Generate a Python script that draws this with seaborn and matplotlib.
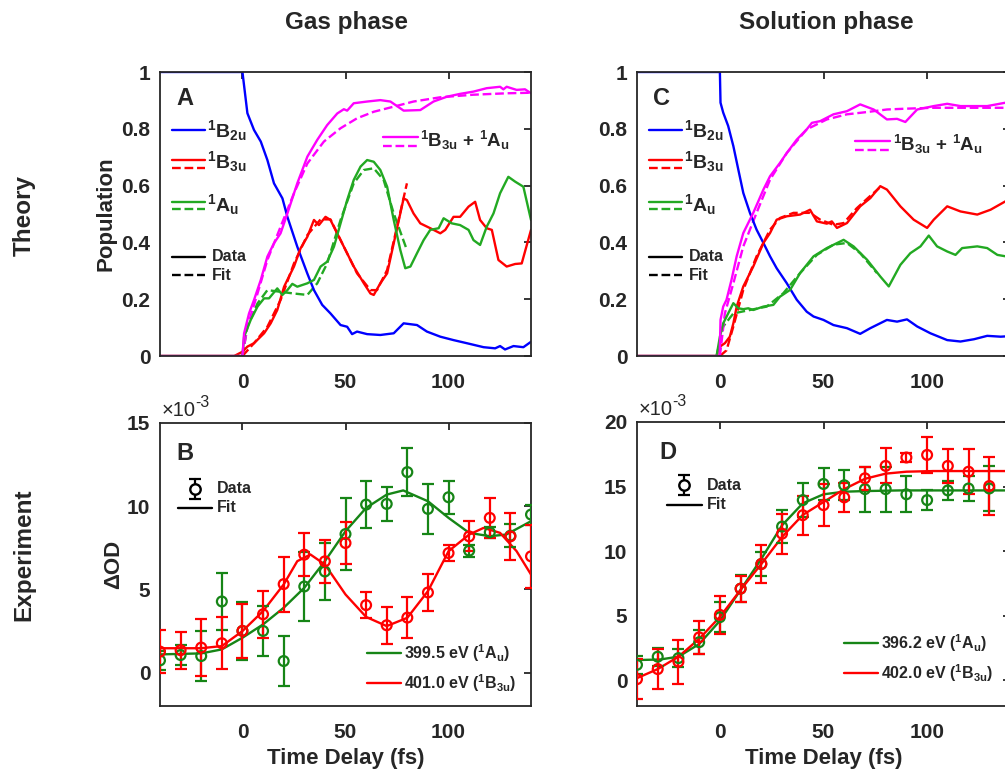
import matplotlib
matplotlib.use("Agg")
import matplotlib.pyplot as plt
import seaborn as sns

sns.set_theme(style="white")
plt.rcParams['font.family'] = ['Liberation Sans', 'DejaVu Sans']
plt.rcParams['font.weight'] = 'bold'
plt.rcParams['axes.labelweight'] = 'bold'
plt.rcParams['mathtext.fontset'] = 'custom'
plt.rcParams['mathtext.rm'] = 'Liberation Sans:bold'
plt.rcParams['mathtext.it'] = 'Liberation Sans:bold'
plt.rcParams['mathtext.bf'] = 'Liberation Sans:bold'
plt.rcParams['mathtext.default'] = 'rm'

# ---------------- theory: state populations (time in fs, population) ----------------
gas_b2u = [(-40, 1.0), (0, 1.0), (2.4, 0.855), (5.6, 0.796), (8.9, 0.755), (12.1, 0.69),
           (15.3, 0.608), (19.4, 0.555), (21.8, 0.49), (26.6, 0.385), (31.5, 0.29),
           (34.7, 0.232), (38.7, 0.18), (42.7, 0.15), (47.6, 0.109), (50.8, 0.103),
           (53.2, 0.077), (55.6, 0.086), (60.5, 0.077), (66.9, 0.074), (73.4, 0.08),
           (78.2, 0.115), (84.7, 0.109), (89.5, 0.086), (96, 0.068), (102.4, 0.056),
           (108.9, 0.045), (117, 0.031), (122.6, 0.027), (125, 0.035), (127.4, 0.023),
           (131.5, 0.035), (136.3, 0.031), (140, 0.05)]
gas_sum = [(-40, 0), (0, 0), (0.8, 0.08), (3.2, 0.15), (5.6, 0.197), (8.9, 0.268),
           (12.1, 0.35), (15.3, 0.397), (18.5, 0.432), (21.8, 0.502), (26.6, 0.608),
           (31.5, 0.702), (36.3, 0.761), (41.1, 0.813), (46, 0.854), (49.2, 0.869),
           (50.8, 0.864), (54, 0.89), (60.5, 0.896), (66.9, 0.901), (71.8, 0.896),
           (78.2, 0.864), (86.3, 0.866), (92.7, 0.896), (99.2, 0.913), (105.6, 0.923),
           (112.1, 0.931), (118.5, 0.943), (125, 0.948), (126.6, 0.939), (128.2, 0.948),
           (133, 0.937), (137.1, 0.939), (140, 0.925)]
gas_sum_fit = [(0, 0), (2.4, 0.103), (7.3, 0.22), (12.1, 0.338), (18.5, 0.455), (25, 0.573),
               (31.5, 0.678), (39.5, 0.755), (47.6, 0.802), (55.6, 0.837), (63.7, 0.86),
               (73.4, 0.878), (83, 0.896), (96, 0.911), (112, 0.92), (128, 0.925), (140, 0.927)]
gas_b3u = [(-40, 0), (-4, 0), (0, 0.015), (2.4, 0.033), (5.6, 0.045), (10.5, 0.08),
           (13.7, 0.115), (16.9, 0.162), (20.2, 0.244), (21.8, 0.268), (25, 0.315),
           (28.2, 0.379), (31.5, 0.42), (34.7, 0.479), (37.1, 0.461), (40.3, 0.49),
           (42.7, 0.479), (47.6, 0.408), (54, 0.315), (58.9, 0.256), (62.1, 0.22),
           (63.7, 0.215), (66.9, 0.256), (70.2, 0.291), (73.4, 0.397), (78.2, 0.555),
           (79.8, 0.549), (83, 0.502), (86.3, 0.467), (91.1, 0.45), (96, 0.432),
           (98.4, 0.444), (102.4, 0.49), (105.6, 0.49), (109.7, 0.526), (112.9, 0.543),
           (115.3, 0.479), (118.5, 0.45), (121, 0.444), (124.2, 0.338), (128.2, 0.315),
           (132.3, 0.324), (135.5, 0.326), (140, 0.444)]
gas_b3u_fit = [(0, 0), (5.6, 0.045), (12.1, 0.103), (18.5, 0.197), (25, 0.326), (31.5, 0.426),
               (37.9, 0.481), (42.7, 0.481), (49.2, 0.385), (55.6, 0.291), (62.1, 0.232),
               (65.3, 0.232), (70.2, 0.303), (75, 0.455), (79.8, 0.608)]
gas_au = [(-40, 0), (0, 0), (0.8, 0.068), (4, 0.127), (7.3, 0.174), (10.5, 0.203),
          (12.9, 0.203), (16.9, 0.238), (19.4, 0.215), (21.8, 0.232), (24.2, 0.254),
          (26.6, 0.244), (31.5, 0.256), (34.7, 0.268), (37.9, 0.315), (41.1, 0.332),
          (44.4, 0.385), (47.6, 0.467), (50.8, 0.549), (54, 0.62), (57.3, 0.667),
          (60.5, 0.69), (63.7, 0.684), (66.9, 0.655), (70.2, 0.596), (73.4, 0.479),
          (76.6, 0.373), (79, 0.309), (81.5, 0.315), (84.7, 0.362), (87.9, 0.408),
          (91.1, 0.444), (95.2, 0.45), (97.6, 0.485), (101.6, 0.467), (105.6, 0.461),
          (109.7, 0.444), (112.1, 0.408), (115.3, 0.391), (118.5, 0.455), (121.8, 0.502),
          (125, 0.573), (129, 0.631), (132.3, 0.614), (136.3, 0.596), (140, 0.479)]
gas_au_fit = [(0, 0), (2.4, 0.103), (7.3, 0.185), (12.1, 0.232), (18.5, 0.226), (25, 0.22),
              (31.5, 0.215), (36.3, 0.256), (41.1, 0.326), (47.6, 0.479), (54, 0.608),
              (58.9, 0.655), (63.7, 0.661), (68.5, 0.62), (73.4, 0.502), (79.8, 0.373)]

sol_b2u = [(-40, 1.0), (0, 1.0), (0.3, 0.892), (1.6, 0.857), (4, 0.81), (6.5, 0.739),
           (8.9, 0.656), (11.3, 0.574), (14.5, 0.504), (17.7, 0.445), (21, 0.398),
           (24.2, 0.351), (27.4, 0.309), (32.3, 0.256), (37.1, 0.198), (41.9, 0.156),
           (45.2, 0.139), (50, 0.127), (54.8, 0.109), (61.3, 0.098), (67.7, 0.078),
           (72.6, 0.098), (80.6, 0.127), (85.5, 0.121), (90.3, 0.129), (95.2, 0.104),
           (101.6, 0.08), (109.7, 0.056), (116.1, 0.051), (122.6, 0.059), (129, 0.071),
           (135.5, 0.068), (140, 0.07)]
sol_sum = [(-40, 0), (-0.1, 0), (0, 0.033), (0.3, 0.127), (1.6, 0.174), (3.2, 0.198),
           (5.6, 0.268), (8.1, 0.351), (11.3, 0.433), (16.1, 0.504), (21, 0.586),
           (24.2, 0.633), (29, 0.68), (32.3, 0.715), (37.1, 0.762), (41.9, 0.798),
           (44.4, 0.821), (48.4, 0.827), (54.8, 0.851), (61.3, 0.862), (67.7, 0.886),
           (74.2, 0.868), (80.6, 0.833), (85.5, 0.835), (89.5, 0.824), (95.2, 0.868),
           (103.2, 0.88), (109.7, 0.888), (116.1, 0.88), (122.6, 0.88), (129, 0.88),
           (137.9, 0.892), (140, 0.89)]
sol_sum_fit = [(0, 0), (2.4, 0.15), (6.5, 0.256), (11.3, 0.386), (17.7, 0.504), (24.2, 0.621),
               (32.3, 0.715), (41.9, 0.798), (51.6, 0.833), (61.3, 0.851), (71, 0.859),
               (80.6, 0.868), (90.3, 0.871), (103.2, 0.874), (119.4, 0.874), (140, 0.874)]
sol_b3u = [(-40, 0), (-0.1, 0), (0, 0.033), (2.4, 0.045), (4.8, 0.068), (6.5, 0.115),
           (8.1, 0.174), (11.3, 0.245), (16.1, 0.315), (21, 0.398), (24.2, 0.433),
           (27.4, 0.48), (32.3, 0.492), (38.7, 0.498), (43.5, 0.515), (46.8, 0.474),
           (51.6, 0.466), (54, 0.474), (56.5, 0.451), (61.3, 0.468), (67.7, 0.527),
           (72.6, 0.556), (77.4, 0.598), (80.6, 0.586), (87.1, 0.527), (93.5, 0.48),
           (100, 0.451), (103.2, 0.48), (109.7, 0.527), (116.1, 0.509), (124.2, 0.498),
           (130.6, 0.515), (137.9, 0.545), (140, 0.55)]
sol_b3u_fit = [(0, 0), (3.2, 0.02), (6.5, 0.104), (11.3, 0.233), (17.7, 0.351), (24.2, 0.445),
               (29, 0.486), (35.5, 0.504), (43.5, 0.504), (48.4, 0.48), (54.8, 0.462),
               (59.7, 0.468), (66, 0.52), (72, 0.56), (77, 0.592)]
sol_au = [(-40, 0), (-1.6, 0), (0, 0.068), (1.6, 0.115), (4, 0.15), (6.5, 0.186),
          (8.9, 0.168), (11.3, 0.165), (13.7, 0.168), (16.1, 0.162), (21, 0.174),
          (25.8, 0.18), (29, 0.209), (33.9, 0.233), (38.7, 0.292), (45.2, 0.351),
          (51.6, 0.38), (59.7, 0.409), (64.5, 0.386), (71, 0.339), (77.4, 0.28),
          (81.5, 0.245), (87.1, 0.321), (91.9, 0.362), (96.8, 0.386), (100.8, 0.424),
          (104.8, 0.386), (109.7, 0.368), (113.7, 0.356), (116.9, 0.38), (124.2, 0.386),
          (129, 0.38), (133.9, 0.356), (137.9, 0.351), (140, 0.35)]
sol_au_fit = [(-1.6, 0), (1.6, 0.104), (6.5, 0.15), (14.5, 0.162), (22.6, 0.174),
              (30.6, 0.221), (38.7, 0.292), (46.8, 0.356), (54.8, 0.392), (61.3, 0.398),
              (67.7, 0.362), (75.8, 0.292)]

# ---------------- experiment: transient absorption (x1e-3) ----------------
delays = [-40, -30, -20, -10, 0, 10, 20, 30, 40, 50, 60, 70, 80, 90, 100, 110, 120, 130, 140]

gas_au_od = [0.74, 1.06, 1.0, 4.28, 2.51, 2.51, 0.7, 5.18, 6.08, 8.33, 10.1, 10.14, 12.05,
             9.84, 10.54, 7.33, 8.43, 8.23, 9.5]
gas_au_err = [0.55, 0.6, 1.5, 1.7, 1.75, 1.5, 1.5, 2.1, 1.7, 2.15, 1.4, 1.0, 1.45, 1.5, 1.0,
              0.35, 0.35, 0.7, 0.6]
gas_b3u_od = [1.27, 1.35, 1.51, 1.77, 2.51, 3.51, 5.32, 7.09, 6.69, 7.79, 4.06, 2.85, 3.31,
              4.82, 7.19, 8.19, 9.3, 8.19, 6.99]
gas_b3u_err = [1.3, 1.1, 1.7, 1.55, 1.6, 1.4, 1.65, 1.3, 1.3, 1.25, 0.8, 1.1, 1.25, 1.1, 0.5,
               0.9, 1.2, 1.4, 1.9]
gas_au_fit_od = [(-40, 1.1), (-20, 1.16), (-10, 1.4), (0, 2.1), (10, 2.9), (20, 3.9),
                 (30, 5.1), (40, 6.7), (50, 8.5), (60, 9.9), (70, 10.7), (78, 10.95),
                 (90, 10.3), (100, 9.3), (110, 8.4), (120, 8.2), (128, 8.3), (140, 9.1)]
gas_b3u_fit_od = [(-40, 1.47), (-20, 1.47), (-10, 1.6), (0, 2.5), (10, 3.7), (20, 5.3),
                  (26.6, 6.7), (33, 7.1), (40, 6.5), (50, 4.7), (60, 3.35), (70, 2.8),
                  (80, 3.3), (90, 4.9), (100, 7.3), (110, 8.3), (117, 8.7), (125, 8.4),
                  (133, 7.3), (140, 5.9)]

sol_delays = [-40, -30, -20, -10, 0, 10, 20, 30, 40, 50, 60, 70, 80, 90, 100, 110, 120, 130]
sol_au_od = [1.19, 1.82, 1.71, 2.94, 4.88, 7.09, 9.0, 11.9, 13.95, 15.2, 15.1, 14.8, 14.8,
             14.4, 13.95, 14.7, 14.85, 14.85]
sol_au_err = [0.7, 0.7, 0.7, 0.95, 1.15, 1.05, 0.9, 1.3, 1.3, 1.25, 1.15, 1.75, 1.75, 1.4,
              0.8, 0.75, 1.0, 1.75]
sol_b3u_od = [0.08, 0.86, 1.43, 3.32, 5.06, 7.09, 9.0, 11.35, 12.78, 13.56, 14.16, 15.64,
              16.6, 17.25, 17.45, 16.6, 16.15, 15.04]
sol_b3u_err = [1.55, 1.55, 1.7, 1.3, 1.45, 1.0, 1.45, 1.55, 1.5, 1.6, 1.15, 0.9, 1.35, 0.35,
               1.4, 1.3, 1.75, 2.25]
sol_au_fit_od = [(-40, 1.56), (-29, 1.6), (-20, 1.82), (-10, 2.8), (0, 4.6), (10, 7.0),
                 (20, 9.4), (30, 12.0), (40, 13.7), (50, 14.4), (60, 14.6), (70, 14.65),
                 (87, 14.7), (140, 14.7)]
sol_b3u_fit_od = [(-40, 0.16), (-30, 0.86), (-20, 1.82), (-10, 3.2), (0, 4.9), (10, 7.0),
                  (20, 9.0), (30, 11.1), (40, 12.8), (50, 13.8), (60, 14.8), (70, 15.6),
                  (80, 16.0), (90, 16.15), (103, 16.2), (140, 16.2)]

BLUE, RED, MAG = '#0000FF', '#FF0000', '#FF00FF'
GREEN_TH, GREEN_EX = '#22A922', '#168516'
INK = '#262626'
LW = 1.7

W, H = 1005, 769
fig = plt.figure(figsize=(W / 100, H / 100), dpi=100)


def px_axes(left, top, width, height):
    return fig.add_axes([left / W, 1 - (top + height) / H, width / W, height / H])


axA = px_axes(160, 72, 371, 284)
axC = px_axes(637, 72, 373, 284)
axB = px_axes(160, 423, 371, 283)
axD = px_axes(637, 422, 373, 284)


def curve(ax, pts, color, dashed=False):
    t = [p[0] for p in pts]
    v = [p[1] for p in pts]
    sns.lineplot(x=t, y=v, ax=ax, color=color, lw=LW, estimator=None, sort=False,
                 linestyle='--' if dashed else '-', legend=False)


def style_axes(ax, ylim, yticks, ylabels):
    ax.set_xlim(-40, 140)
    ax.set_ylim(*ylim)
    ax.set_xticks([0, 50, 100])
    ax.set_yticks(yticks)
    ax.set_yticklabels(ylabels)
    ax.tick_params(direction='in', length=5, width=1.3, top=True, right=True,
                   labelsize=15, colors=INK)
    ax.tick_params(axis='x', pad=12)
    ax.tick_params(axis='y', pad=7)
    for lab in ax.get_xticklabels() + ax.get_yticklabels():
        lab.set_fontweight('bold')
    for s in ax.spines.values():
        s.set_color(INK)
        s.set_linewidth(1.3)
    ax.set_xlabel('')
    ax.set_ylabel('')


def key_line(ax, x0, x1, y, color, dashed=False):
    ax.plot([x0, x1], [y, y], transform=ax.transAxes, color=color, lw=LW,
            ls='--' if dashed else '-', clip_on=False)


def theory_keys(ax, letter, mag_x0, mag_y):
    ax.text(0.067, 0.905, letter, transform=ax.transAxes, fontsize=17, ha='center', va='center')
    key_line(ax, 0.032, 0.121, 0.796, BLUE)
    ax.text(0.127, 0.795, r'$^{1}$B$_{2u}$', transform=ax.transAxes, fontsize=14, va='center')
    key_line(ax, 0.032, 0.121, 0.690, RED)
    key_line(ax, 0.032, 0.121, 0.662, RED, True)
    ax.text(0.127, 0.683, r'$^{1}$B$_{3u}$', transform=ax.transAxes, fontsize=14, va='center')
    key_line(ax, 0.032, 0.121, 0.542, GREEN_TH)
    key_line(ax, 0.032, 0.121, 0.519, GREEN_TH, True)
    ax.text(0.127, 0.535, r'$^{1}$A$_{u}$', transform=ax.transAxes, fontsize=14, va='center')
    key_line(ax, 0.032, 0.121, 0.349, 'black')
    ax.text(0.14, 0.349, 'Data', transform=ax.transAxes, fontsize=11.5, va='center')
    key_line(ax, 0.032, 0.121, 0.285, 'black', True)
    ax.text(0.14, 0.285, 'Fit', transform=ax.transAxes, fontsize=11.5, va='center')
    key_line(ax, mag_x0, mag_x0 + 0.094, mag_y, MAG)
    key_line(ax, mag_x0, mag_x0 + 0.094, mag_y - 0.03, MAG, True)
    ax.text(mag_x0 + 0.1, mag_y - 0.012, r'$^{1}$B$_{3u}$ + $^{1}$A$_{u}$', transform=ax.transAxes,
            fontsize=13.5, va='center')


def theory_panel(ax, b2u, tot, tot_fit, b3u, b3u_fit, au, au_fit):
    curve(ax, b3u_fit, RED, True)
    curve(ax, au_fit, GREEN_TH, True)
    curve(ax, tot_fit, MAG, True)
    curve(ax, b2u, BLUE)
    curve(ax, b3u, RED)
    curve(ax, au, GREEN_TH)
    curve(ax, tot, MAG)
    style_axes(ax, (0, 1), [0, 0.2, 0.4, 0.6, 0.8, 1], ['0', '0.2', '0.4', '0.6', '0.8', '1'])


theory_panel(axA, gas_b2u, gas_sum, gas_sum_fit, gas_b3u, gas_b3u_fit, gas_au, gas_au_fit)
theory_keys(axA, 'A', 0.601, 0.771)
theory_panel(axC, sol_b2u, sol_sum, sol_sum_fit, sol_b3u, sol_b3u_fit, sol_au, sol_au_fit)
theory_keys(axC, 'C', 0.585, 0.757)


def points(ax, t, v, err, color):
    ax.errorbar(t, v, yerr=err, fmt='none', ecolor=color, elinewidth=1.6, capsize=4.5,
                capthick=1.6, zorder=3)
    sns.scatterplot(x=t, y=v, ax=ax, marker='o', s=50, facecolors='none', edgecolor=color,
                    linewidth=1.6, zorder=4, legend=False)


def exp_keys(ax, letter, data_x, data_y, fit_x0, fit_y, lab1, lab2, ex0, ey1, ey2):
    ax.text(0.067 if letter == 'B' else 0.083, 0.892, letter, transform=ax.transAxes,
            fontsize=17, ha='center', va='center')
    ax.plot([data_x, data_x], [data_y - 0.034, data_y + 0.034], transform=ax.transAxes,
            color='black', lw=1.6)
    ax.plot([data_x, data_x], [data_y + 0.034, data_y - 0.034], transform=ax.transAxes,
            marker='_', ms=8, mew=1.6, ls='none', color='black')
    ax.plot([data_x], [data_y], transform=ax.transAxes, marker='o', ms=7.5, mfc='white',
            mec='black', mew=1.7)
    ax.text(data_x + 0.06, data_y, 'Data', transform=ax.transAxes, fontsize=11.5, va='center')
    key_line(ax, fit_x0, fit_x0 + 0.092, fit_y, 'black')
    ax.text(data_x + 0.06, fit_y, 'Fit', transform=ax.transAxes, fontsize=11.5, va='center')
    key_line(ax, ex0, ex0 + 0.092, ey1, GREEN_EX)
    ax.text(ex0 + 0.1, ey1, lab1, transform=ax.transAxes, fontsize=11.5, va='center')
    key_line(ax, ex0, ex0 + 0.092, ey2, RED)
    ax.text(ex0 + 0.1, ey2, lab2, transform=ax.transAxes, fontsize=11.5, va='center')
    t1 = ax.text(0.003, 1.01, '\u00d710', transform=ax.transAxes, fontsize=14.5,
                 fontweight='normal', color=INK, va='bottom', ha='left')
    ax.annotate('-3', xy=(1.0, 0.55), xycoords=t1, fontsize=11.5, fontweight='normal',
                color=INK, va='bottom', ha='left')


curve(axB, gas_au_fit_od, GREEN_EX)
curve(axB, gas_b3u_fit_od, RED)
points(axB, delays, gas_au_od, gas_au_err, GREEN_EX)
points(axB, delays, gas_b3u_od, gas_b3u_err, RED)
style_axes(axB, (-2, 15), [0, 5, 10, 15], ['0', '5', '10', '15'])
exp_keys(axB, 'B', 0.094, 0.767, 0.049, 0.70,
         r'399.5 eV ($^{1}$A$_{u}$)', r'401.0 eV ($^{1}$B$_{3u}$)', 0.558, 0.187, 0.081)

curve(axD, sol_au_fit_od, GREEN_EX)
curve(axD, sol_b3u_fit_od, RED)
points(axD, sol_delays, sol_au_od, sol_au_err, GREEN_EX)
points(axD, sol_delays, sol_b3u_od, sol_b3u_err, RED)
style_axes(axD, (-2, 20), [0, 5, 10, 15, 20], ['0', '5', '10', '15', '20'])
exp_keys(axD, 'D', 0.127, 0.778, 0.081, 0.708,
         r'396.2 eV ($^{1}$A$_{u}$)', r'402.0 eV ($^{1}$B$_{3u}$)', 0.555, 0.222, 0.116)

# axis labels
axA.set_ylabel('Population', fontsize=16, color=INK)
axA.yaxis.set_label_coords(-0.118, 0.5)
axB.set_ylabel('\u0394OD', fontsize=16, color=INK)
axB.yaxis.set_label_coords(-0.097, 0.5)
for ax in (axB, axD):
    ax.set_xlabel('Time Delay (fs)', fontsize=16, color=INK)
    ax.xaxis.set_label_coords(0.5, -0.148)

# column and row headings
fig.text(346 / W, 1 - 22 / H, 'Gas phase', fontsize=17.5, ha='center', va='center')
fig.text(826 / W, 1 - 22 / H, 'Solution phase', fontsize=17.5, ha='center', va='center')
fig.text(24 / W, 1 - 215 / H, 'Theory', fontsize=17.5, rotation=90, ha='center', va='center')
fig.text(24 / W, 1 - 555 / H, 'Experiment', fontsize=17.5, rotation=90, ha='center', va='center')

fig.savefig('out.png', dpi=100)
